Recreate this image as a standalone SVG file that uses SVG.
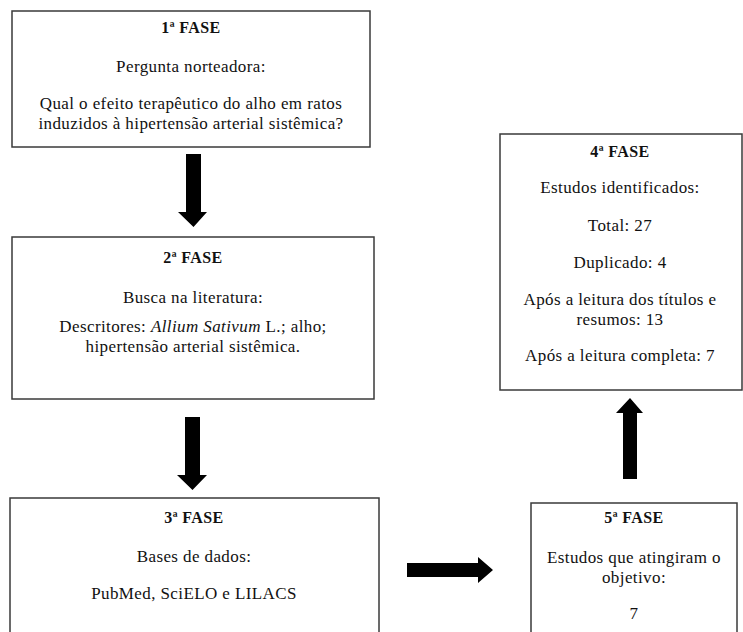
<svg xmlns="http://www.w3.org/2000/svg" width="743" height="632" viewBox="0 0 743 632">
<style>
.box{fill:#fff;stroke:#3a3a3a;stroke-width:1.5}
.arr{fill:#000}
</style>
<rect width="743" height="632" fill="#fff"/>
<g font-family="Liberation Serif" font-size="17" fill="#111" text-anchor="middle" letter-spacing="0.4">
<g id="fase1">
<rect class="box" x="12" y="11" width="358" height="136"/>
<text font-weight="bold" font-size="16" x="191" y="33">1ª FASE</text>
<text x="191" y="72">Pergunta norteadora:</text>
<text x="191" y="109">Qual o efeito terapêutico  do alho em ratos</text>
<text x="191" y="129">induzidos à hipertensão arterial  sistêmica?</text>
</g>
<g id="fase2">
<rect class="box" x="12" y="237" width="362" height="162"/>
<text font-weight="bold" font-size="16" x="193" y="263">2ª FASE</text>
<text x="193" y="303">Busca na literatura:</text>
<text x="193" y="332">Descritores: <tspan font-style="italic">Allium Sativum</tspan> L.; alho;</text>
<text x="193" y="352">hipertensão  arterial  sistêmica.</text>
</g>
<g id="fase3">
<rect class="box" x="10" y="498" width="369" height="150"/>
<text font-weight="bold" font-size="16" x="194" y="523">3ª FASE</text>
<text x="194" y="562">Bases de dados:</text>
<text x="194" y="599">PubMed, SciELO e LILACS</text>
</g>
<g id="fase4">
<rect class="box" x="500" y="134" width="242" height="256"/>
<text font-weight="bold" font-size="16" x="620" y="157">4ª FASE</text>
<text x="620" y="193">Estudos identificados:</text>
<text x="620" y="231">Total:  27</text>
<text x="620" y="268">Duplicado: 4</text>
<text x="620" y="305">Após a leitura dos títulos e</text>
<text x="620" y="325">resumos: 13</text>
<text x="620" y="361">Após a leitura completa:  7</text>
</g>
<g id="fase5">
<rect class="box" x="531" y="503" width="206" height="150"/>
<text font-weight="bold" font-size="16" x="634" y="523">5ª FASE</text>
<text x="634" y="563">Estudos que atingiram  o</text>
<text x="634" y="583">objetivo:</text>
<text x="634" y="619">7</text>
</g>
</g>
<g id="connectors">
<polygon class="arr" points="186,154 201,154 201,212 207,212 193.5,227 178,212 186,212"/>
<polygon class="arr" points="185,417 200,417 200,475 207,475 192.5,490 177,475 185,475"/>
<polygon class="arr" points="623,479 637,479 637,413 643,413 630,398 616,413 623,413"/>
<polygon class="arr" points="407,563 478,563 478,557 493,570 478,583 478,577 407,577"/>
</g>
</svg>
